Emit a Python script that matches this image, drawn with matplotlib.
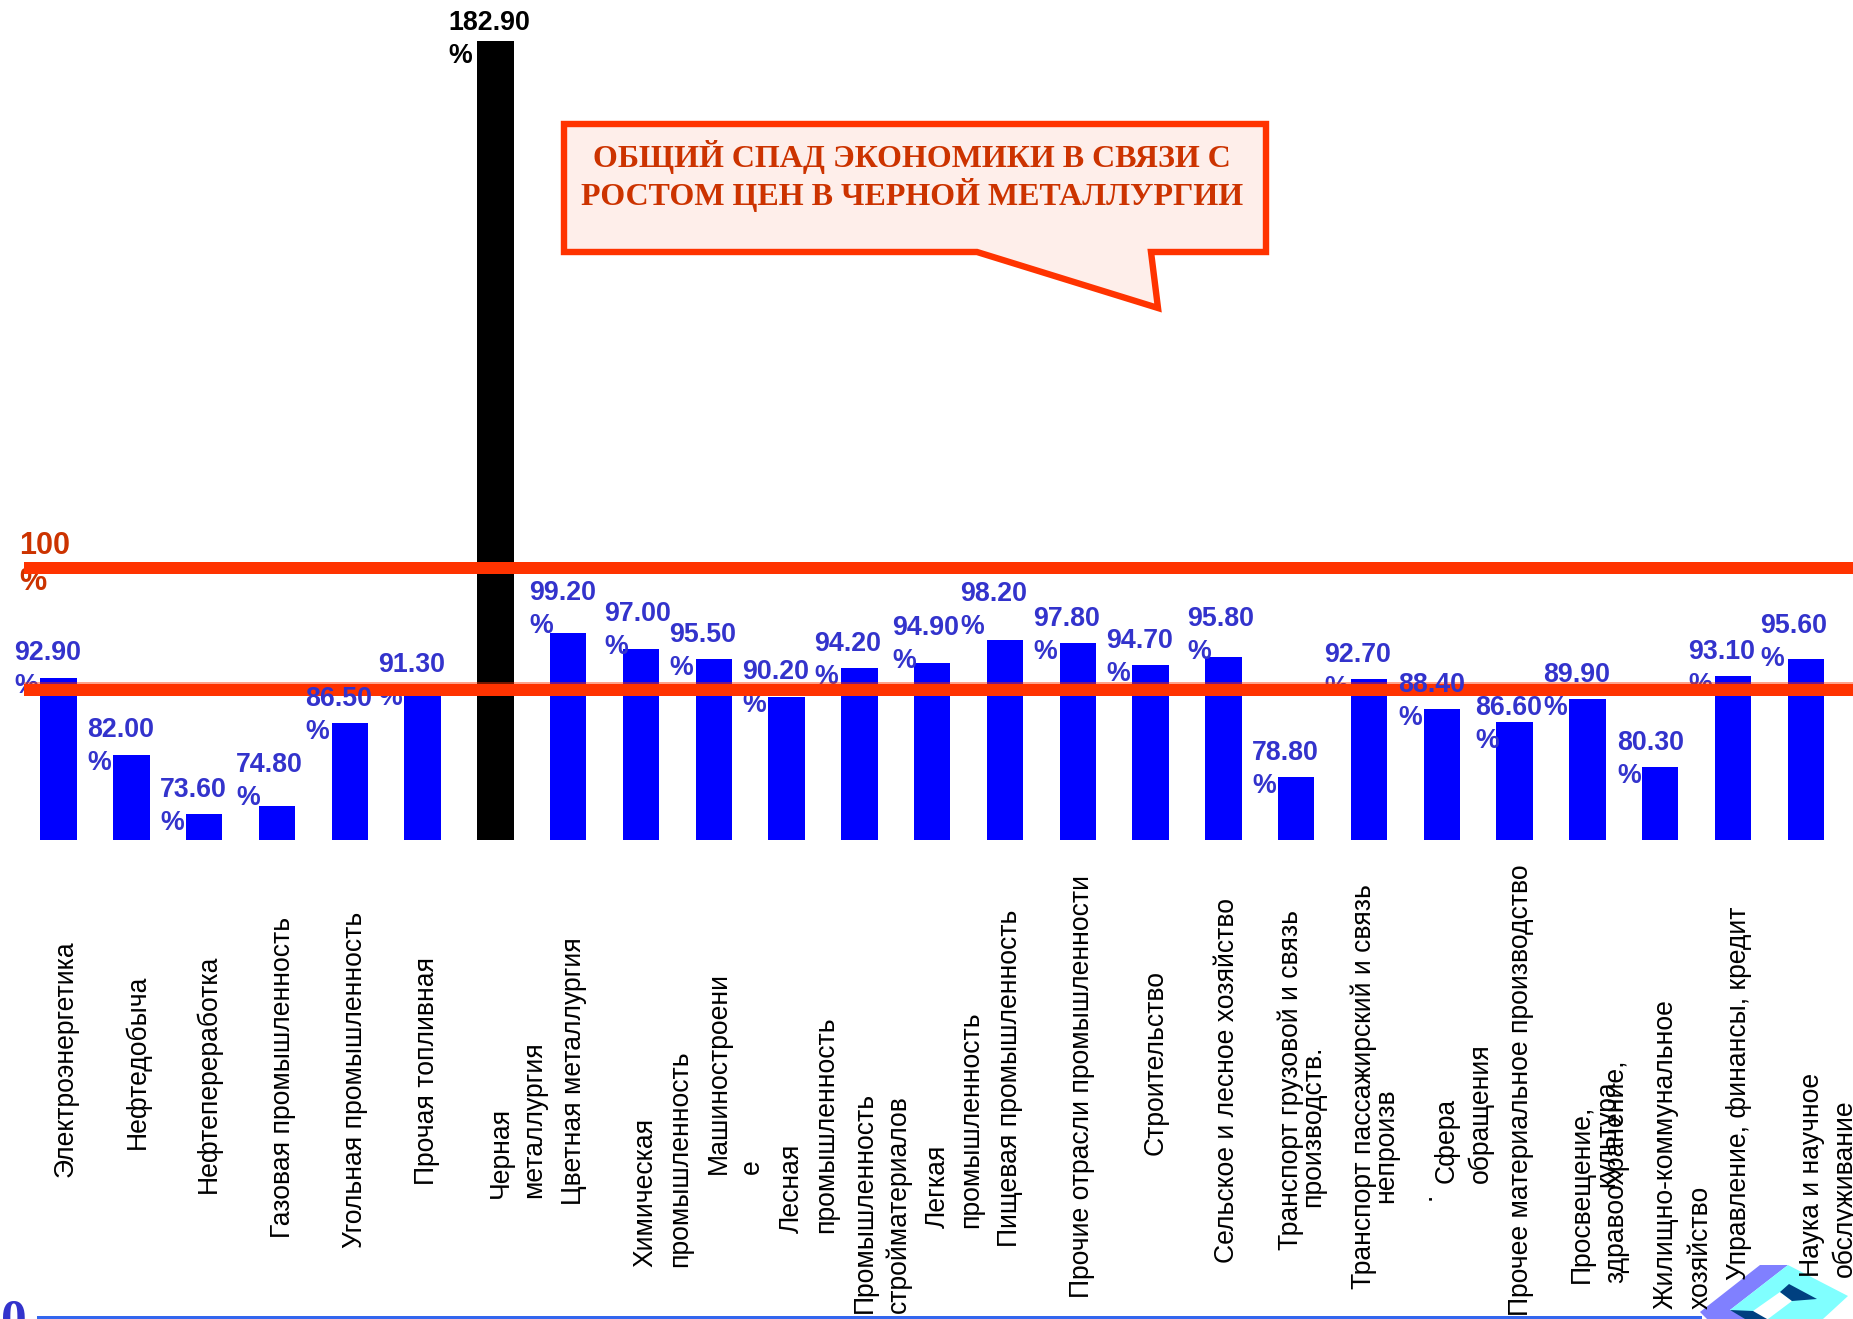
import matplotlib
matplotlib.use("Agg")
import matplotlib.pyplot as plt
from matplotlib.patches import Polygon, Rectangle

W, H = 1853, 1319
categories = [
    "Электроэнергетика", "Нефтедобыча", "Нефтепереработка", "Газовая промышленность",
    "Угольная промышленность", "Прочая топливная", "Черная\nметаллургия", "Цветная металлургия",
    "Химическая\nпромышленность", "Машиностроени\nе", "Лесная\nпромышленность",
    "Промышленность\nстройматериалов", "Легкая\nпромышленность", "Пищевая промышленность",
    "Прочие отрасли промышленности", "Строительство", "Сельское и лесное хозяйство",
    "Транспорт грузовой и связь\nпроизводств.", "Транспорт пассажирский и связь\nнепроизв\n.",
    "Сфера\nобращения", "Прочее материальное производство",
    "Просвещение,\nздравоохранение,\nкультура", "Жилищно-коммунальное\nхозяйство",
    "Управление, финансы, кредит", "Наука и научное\nобслуживание",
]
values = [92.9, 82.0, 73.6, 74.8, 86.5, 91.3, 182.9, 99.2, 97.0, 95.5, 90.2, 94.2, 94.9,
          98.2, 97.8, 94.7, 95.8, 78.8, 92.7, 88.4, 86.6, 89.9, 80.3, 93.1, 95.6]
value_labels = [f"{v:.2f}\n%" for v in values]
callout_text = "ОБЩИЙ СПАД ЭКОНОМИКИ В СВЯЗИ С\nРОСТОМ ЦЕН В ЧЕРНОЙ МЕТАЛЛУРГИИ"
reference_label = "100\n%"
zero_label = "0"

# layout, in reference pixels
base_value = 70.0
base_y, px_per_unit = 839.5, 7.07
first_x, step_x = 58.5, 72.8
label_left = [14, 87, 160, 236, 305, 378, 448, 529, 604, 669, 742, 814, 892, 960, 1033, 1106,
              1187, 1252, 1324, 1398, 1475, 1543, 1617, 1688, 1760]
label_mid_y = [651, 728, 788, 763, 697, 663, 21, 591, 612, 633, 670, 642, 626, 592, 617, 639,
               617, 751, 653, 683, 706, 673, 741, 650, 624]
cat_layout = [
    [(66, 1177)], [(138, 1149)], [(209, 1193)], [(283, 1238)], [(355, 1248)], [(427, 1185)],
    [(501, 1198), (534, 1198)], [(574, 1205)], [(645, 1267), (680, 1267)], [(719, 1174), (752, 1174)],
    [(792, 1233), (826, 1233)], [(865, 1313), (899, 1313)], [(938, 1228), (971, 1228)], [(1010, 1247)],
    [(1082, 1298)], [(1156, 1155)], [(1227, 1263)], [(1291, 1250), (1313, 1207)],
    [(1364, 1289), (1386, 1203), (1424, 1200)], [(1447, 1183), (1481, 1183)], [(1521, 1316)],
    [(1582, 1283), (1616, 1283), (1607, 1187)], [(1666, 1309), (1701, 1309)], [(1739, 1280)],
    [(1812, 1277), (1845, 1277)],
]

fig = plt.figure(figsize=(W / 100, H / 100), dpi=100, facecolor="white")
ax = fig.add_axes([0, 0, 1, 1])
ax.set_xlim(-first_x / step_x, (W - first_x) / step_x)
ax.set_ylim(base_value - (H - base_y) / px_per_unit, base_value + base_y / px_per_unit)
ax.axis("off")


def P(x, y):
    return x / W, 1 - y / H


SANS = "Liberation Sans"
SERIF = "Liberation Serif"
BLUE_TXT, RED_TXT, RED = "#3333CC", "#CC3300", "#FF3300"

ax.bar(range(len(values)), [v - base_value for v in values], bottom=base_value, width=0.5,
       color=["black" if v > 150 else "#0000FF" for v in values], zorder=2)

# reference lines
for y, halo in ((568, False), (689.5, True)):
    if halo:
        ax.add_patch(Rectangle(P(24, y + 7), (W - 24) / W, 14 / H, transform=fig.transFigure,
                               fc=RED, alpha=0.45, ec="none", zorder=3.9))
    ax.add_patch(Rectangle(P(24, y + 6), (W - 24) / W, 12 / H, transform=fig.transFigure,
                           fc=RED, ec="none", zorder=4))

# value labels
for lab, v, lx, my in zip(value_labels, values, label_left, label_mid_y):
    over = v in (86.5, 88.4)
    ax.text(*P(lx, my - 11), lab, transform=fig.transFigure, ha="left", va="top", family=SANS,
            weight="bold", fontsize=19.3, linespacing=1.33, multialignment="left",
            color="black" if v > 150 else BLUE_TXT, zorder=5 if over else 3)

ax.text(*P(19, 531), reference_label, transform=fig.transFigure, ha="left", va="top", family=SANS,
        weight="bold", fontsize=22, linespacing=1.25, color=RED_TXT, zorder=3)

# category labels
for cat, layout in zip(categories, cat_layout):
    for line, (cx, by) in zip(cat.split("\n"), layout):
        ax.text(*P(cx, by), line, transform=fig.transFigure, rotation=90, ha="center", va="bottom",
                family=SANS, fontsize=19.1, color="black", zorder=6)

# callout
outline = [(564, 124), (1266, 124), (1266, 252), (1151, 252), (1158, 308), (977, 252), (564, 252)]
ax.add_patch(Polygon([P(*p) for p in outline], closed=True, transform=fig.transFigure,
                     fc="#FEEEEA", ec=RED, lw=4.6, joinstyle="miter", zorder=7))
ax.text(*P(912, 176), callout_text, transform=fig.transFigure, ha="center", va="center", family=SERIF,
        weight="bold", fontsize=23, linespacing=1.13, color=RED_TXT, zorder=8)

# bottom rule, zero, logo
ax.add_patch(Rectangle(P(37, 1319), (1702 - 37) / W, 3 / H, transform=fig.transFigure,
                       fc="#3366EE", ec="none", zorder=2))
ax.text(*P(1, 1298), zero_label, transform=fig.transFigure, ha="left", va="top", family=SERIF,
        weight="bold", fontsize=37, color=BLUE_TXT, zorder=8)

logo = [
    ("#8080FF", [(1700, 1312), (1760, 1265), (1788, 1265), (1730, 1310), (1753, 1319), (1707, 1319)]),
    ("#80FFFF", [(1788, 1265), (1848, 1296), (1823, 1319), (1753, 1319), (1730, 1310)]),
    ("white", [(1753, 1311), (1780, 1292), (1792, 1301), (1768, 1319), (1763, 1319)]),
    ("#004080", [(1780, 1292), (1789, 1284), (1817, 1299), (1792, 1301)]),
    ("#004080", [(1730, 1310), (1753, 1311), (1767, 1319), (1745, 1319)]),
]
for col, pts in logo:
    ax.add_patch(Polygon([P(*p) for p in pts], closed=True, transform=fig.transFigure,
                         fc=col, ec="none", zorder=5))

fig.savefig("out.png", dpi=100, facecolor="white")
